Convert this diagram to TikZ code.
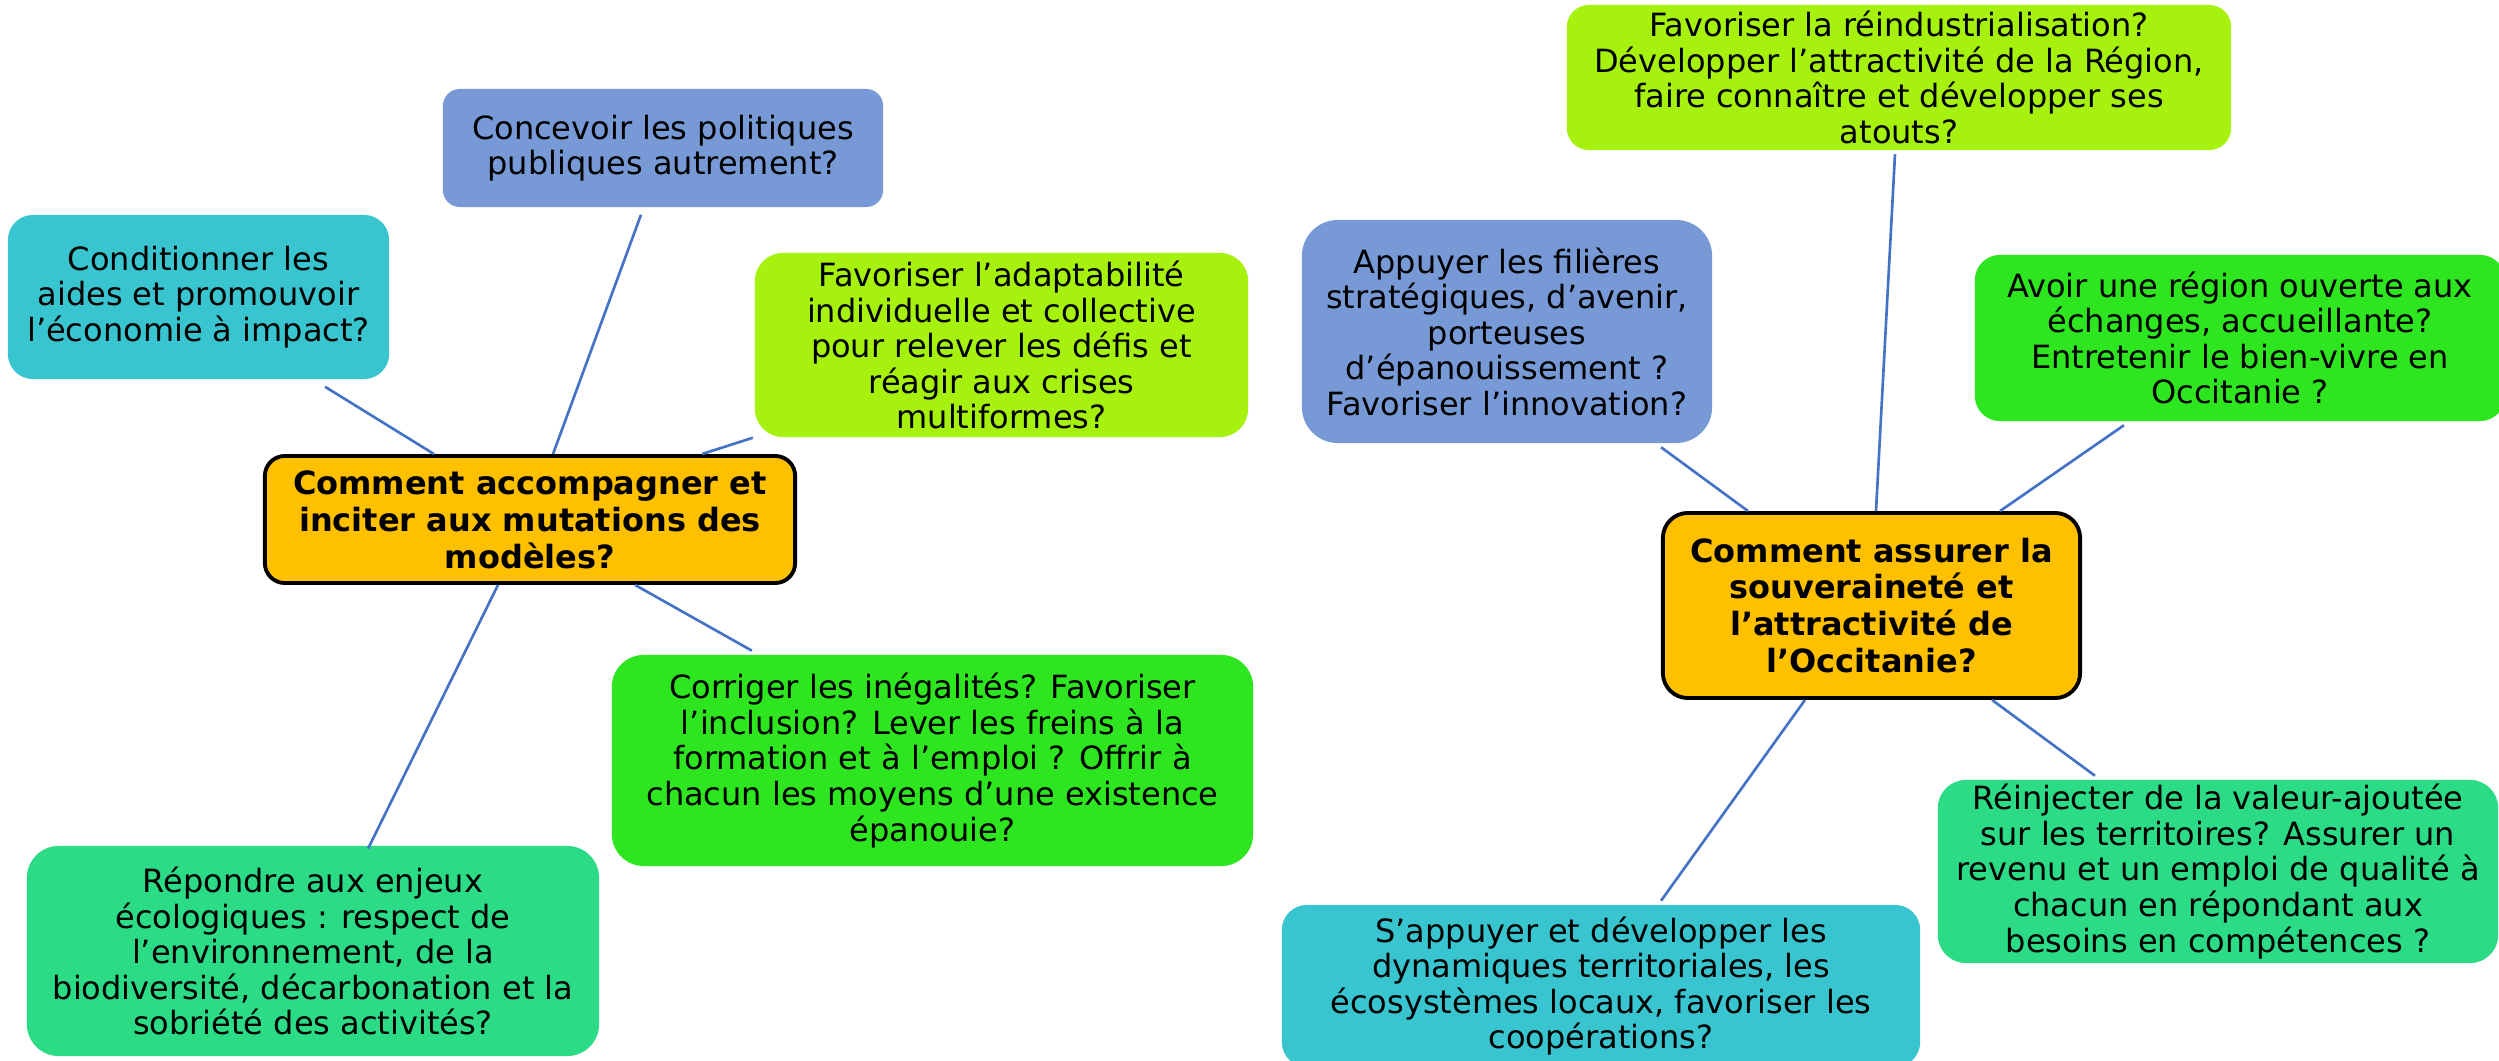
\documentclass[tikz,border=0pt]{standalone}
\usepackage{fontspec}
\setmainfont{DejaVu Sans}
\usetikzlibrary{calc}
\definecolor{cblue}{HTML}{7799D6}
\definecolor{ccyan}{HTML}{38C5CF}
\definecolor{clime}{HTML}{A7F10F}
\definecolor{cgreen}{HTML}{2DE61F}
\definecolor{cteal}{HTML}{2BDB85}
\definecolor{corange}{HTML}{FFC000}
\definecolor{cline}{HTML}{4472C4}
\tikzset{
  bubble/.style={rectangle, inner sep=0pt, align=center, text=black,
    font=\fontsize{9.1pt}{10.1pt}\selectfont},
  hub/.style={bubble, fill=corange, draw=black, line width=1.1pt,
    font=\bfseries\fontsize{9.1pt}{10.5pt}\selectfont},
  link/.style={draw=cline, line width=0.75pt},
}
\begin{document}
\begin{tikzpicture}[x=0.01cm,y=-0.01cm]
\path[use as bounding box] (0,0) rectangle (2499,1061);
\clip (0,0) rectangle (2499,1061);
\fill[white] (0,0) rectangle (2499,1061);

% left cluster
\node[bubble, fill=cblue, minimum width=4.40cm, minimum height=1.18cm, rounded corners=0.17cm] (conc) at (663,148)
  {Concevoir les politiques\\publiques autrement?};
\node[bubble, fill=ccyan, minimum width=3.81cm, minimum height=1.64cm, rounded corners=0.25cm] (cond) at (198.5,297)
  {Conditionner les\\aides et promouvoir\\l’économie à impact?};
\node[bubble, fill=clime, minimum width=4.93cm, minimum height=1.84cm, rounded corners=0.28cm] (adap) at (1001.5,345)
  {Favoriser l’adaptabilité\\individuelle et collective\\pour relever les défis et\\réagir aux crises\\multiformes?};
\node[hub, minimum width=5.30cm, minimum height=1.27cm, rounded corners=0.2cm] (cl) at (530,519.5)
  {Comment accompagner et\\inciter aux mutations des\\modèles?};
\node[bubble, fill=cgreen, minimum width=6.41cm, minimum height=2.11cm, rounded corners=0.32cm] (corr) at (932.5,760.5)
  {Corriger les inégalités? Favoriser\\l’inclusion? Lever les freins à la\\formation et à l’emploi ? Offrir à\\chacun les moyens d’une existence\\épanouie?};
\node[bubble, fill=cteal, minimum width=5.72cm, minimum height=2.10cm, rounded corners=0.32cm] (rep) at (313,951)
  {Répondre aux enjeux\\écologiques : respect de\\l’environnement, de la\\biodiversité, décarbonation et la\\sobriété des activités?};

% right cluster
\node[bubble, fill=clime, minimum width=6.64cm, minimum height=1.45cm, rounded corners=0.22cm] (rein) at (1899,77.5)
  {Favoriser la réindustrialisation?\\Développer l’attractivité de la Région,\\faire connaître et développer ses\\atouts?};
\node[bubble, fill=cblue, minimum width=4.10cm, minimum height=2.23cm, rounded corners=0.36cm] (appu) at (1507,331.5)
  {Appuyer les filières\\stratégiques, d’avenir,\\porteuses\\d’épanouissement ?\\Favoriser l’innovation?};
\node[bubble, fill=cgreen, minimum width=5.30cm, minimum height=1.66cm, rounded corners=0.25cm] (avoir) at (2240,338)
  {Avoir une région ouverte aux\\échanges, accueillante?\\Entretenir le bien-vivre en\\Occitanie ?};
\node[hub, minimum width=4.17cm, minimum height=1.85cm, rounded corners=0.25cm] (cr) at (1871.5,605.5)
  {Comment assurer la\\souveraineté et\\l’attractivité de\\l’Occitanie?};
\node[bubble, fill=cteal, minimum width=5.60cm, minimum height=1.83cm, rounded corners=0.28cm] (reinj) at (2218,871.5)
  {Réinjecter de la valeur-ajoutée\\sur les territoires? Assurer un\\revenu et un emploi de qualité à\\chacun en répondant aux\\besoins en compétences ?};
\node[bubble, fill=ccyan, minimum width=6.38cm, minimum height=1.62cm, rounded corners=0.25cm] (sapp) at (1601,986)
  {S’appuyer et développer les\\dynamiques territoriales, les\\écosystèmes locaux, favoriser les\\coopérations?};

% connectors, left
\draw[link] ([xshift=1.265cm,yshift=-2pt]cond.south) -- ([xshift=-0.96cm]cl.north);
\draw[link] ([xshift=-0.22cm,yshift=-2pt]conc.south) -- ([xshift=0.23cm]cl.north);
\draw[link] ([xshift=-2.485cm]adap.south) -- ([xshift=1.72cm]cl.north);
\draw[link] ([xshift=-0.32cm]cl.south) -- ([xshift=0.55cm,yshift=-1pt]rep.north);
\draw[link] ([xshift=1.05cm]cl.south) -- ([xshift=-1.805cm,yshift=1pt]corr.north);

% connectors, right
\draw[link] ([xshift=-0.04cm,yshift=-1pt]rein.south) -- ([xshift=0.045cm]cr.north);
\draw[link] ([xshift=1.54cm,yshift=-1pt]appu.south) -- ([xshift=-1.235cm]cr.north);
\draw[link] ([xshift=-1.16cm,yshift=-1pt]avoir.south) -- ([xshift=1.285cm]cr.north);
\draw[link] ([xshift=-0.665cm]cr.south) -- ([xshift=0.6cm,yshift=1pt]sapp.north);
\draw[link] ([xshift=1.205cm]cr.south) -- ([xshift=-1.23cm,yshift=1pt]reinj.north);
\end{tikzpicture}
\end{document}
